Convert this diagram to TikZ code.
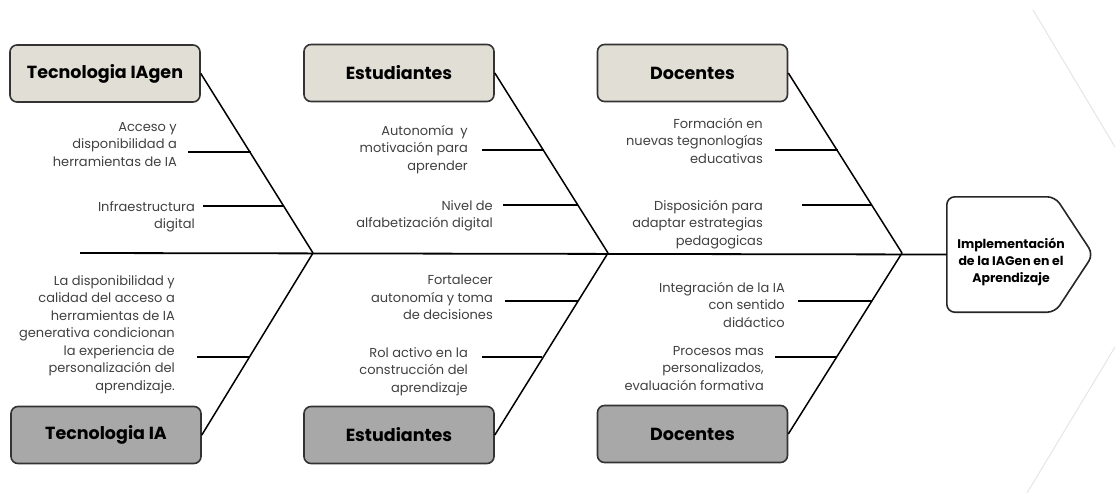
\documentclass[tikz,border=0pt]{standalone}
\usepackage{fontspec}
\setmainfont{Poppins}

\definecolor{causeup}{HTML}{E0DED5}
\definecolor{causedown}{HTML}{A8A8A8}

\begin{document}
\begin{tikzpicture}[
  x=1pt,y=-1pt,
  cause/.style={draw=black!80,line width=1.6pt,rounded corners=7pt,
    minimum width=190pt,minimum height=57pt,font=\bfseries\fontsize{17.5}{20}\selectfont},
  factor/.style={anchor=north east,inner sep=0pt,align=right,text=black!75,yshift=-5pt,
    font=\fontsize{13}{17.5}\selectfont},
  bone/.style={line width=1.5pt},
  twig/.style={line width=1.3pt}
]
  \useasboundingbox (0,0) rectangle (1115,501);
  \draw[gray!20,line width=1pt] (1033,10) -- (1115,147);
  \draw[gray!20,line width=1pt] (1115,347) -- (1027,493);

  % causes
  \node[cause,fill=causeup] (TG) at (105,73.5) {Tecnologia IAgen};
  \node[cause,fill=causeup] (EU) at (399,73) {Estudiantes};
  \node[cause,fill=causeup] (DU) at (692.5,73) {Docentes};
  \node[cause,fill=causedown] (TI) at (106,435) {Tecnologia IA};
  \node[cause,fill=causedown] (ED) at (399,435) {Estudiantes};
  \node[cause,fill=causedown] (DD) at (692.5,434) {Docentes};

  % effect
  \node[minimum width=146pt,minimum height=115pt,inner sep=0pt] (head) at (1020,254.5) {};
  \draw[draw=black!85,line width=1.6pt,rounded corners=8pt]
    (head.west) -- (head.north west) -- ([xshift=-38pt]head.north east) -- (head.east)
    -- ([xshift=-38pt]head.south east) -- (head.south west) -- cycle;
  \node[align=center,inner sep=0pt,font=\bfseries\fontsize{12.5}{17}\selectfont]
    (headlabel) at (1011,262) {Implementación\\de la IAGen en el\\Aprendizaje};

  % spine
  \coordinate (tail) at (80,253);
  \coordinate (j1) at (313,253);
  \coordinate (j2) at (608,253);
  \coordinate (j3) at (902,253);
  \draw[line width=1.8pt] (tail) -- (head.west);

  \draw[bone] (TG.east) -- (j1);
  \draw[bone] (EU.east) -- (j2);
  \draw[bone] (DU.east) -- (j3);
  \draw[bone] (TI.east) -- (j1);
  \draw[bone] (ED.east) -- (j2);
  \draw[bone] (DD.east) -- (j3);

  % factors
  \node[factor] (a1) at (177,117) {Acceso y\\disponibilidad a\\herramientas de IA};
  \node[factor] (a2) at (195,196) {Infraestructura\\digital};
  \node[factor] (b1) at (468,120) {Autonomía \ y\\motivación para\\aprender};
  \node[factor] (b2) at (493,195) {Nivel de\\alfabetización digital};
  \node[factor] (c1) at (763,113) {Formación en\\nuevas tegnonlogías\\educativas};
  \node[factor] (c2) at (763,195) {Disposición para\\adaptar estrategias\\pedagogicas};
  \node[factor] (d1) at (175,270) {La disponibilidad y\\calidad del acceso a\\herramientas de IA\\generativa condicionan\\la experiencia de\\personalización del\\aprendizaje.};
  \node[factor] (e1) at (493,270) {Fortalecer\\autonomía y toma\\de decisiones};
  \node[factor] (e2) at (468,342) {Rol activo en la\\construcción del\\aprendizaje};
  \node[factor] (f1) at (785,277) {Integración de la IA\\con sentido\\didáctico};
  \node[factor] (f2) at (764,341) {Procesos mas\\personalizados,\\evaluación formativa};

  \coordinate (a1s) at (188,152);  \coordinate (a1e) at (251,152);
  \coordinate (a2s) at (203,206);  \coordinate (a2e) at (284,206);
  \coordinate (b1s) at (482,150);  \coordinate (b1e) at (544,150);
  \coordinate (b2s) at (503,205);  \coordinate (b2e) at (578,205);
  \coordinate (c1s) at (775,150);  \coordinate (c1e) at (838,150);
  \coordinate (c2s) at (802,205);  \coordinate (c2e) at (872,205);
  \coordinate (d1s) at (197,357);  \coordinate (d1e) at (249,357);
  \coordinate (e1s) at (505,301);  \coordinate (e1e) at (578,301);
  \coordinate (e2s) at (482,357);  \coordinate (e2e) at (542,357);
  \coordinate (f1s) at (798,301);  \coordinate (f1e) at (872,301);
  \coordinate (f2s) at (775,357);  \coordinate (f2e) at (837,357);

  \draw[twig] (a1s) -- (a1e);
  \draw[twig] (a2s) -- (a2e);
  \draw[twig] (b1s) -- (b1e);
  \draw[twig] (b2s) -- (b2e);
  \draw[twig] (c1s) -- (c1e);
  \draw[twig] (c2s) -- (c2e);
  \draw[twig] (d1s) -- (d1e);
  \draw[twig] (e1s) -- (e1e);
  \draw[twig] (e2s) -- (e2e);
  \draw[twig] (f1s) -- (f1e);
  \draw[twig] (f2s) -- (f2e);
\end{tikzpicture}
\end{document}
